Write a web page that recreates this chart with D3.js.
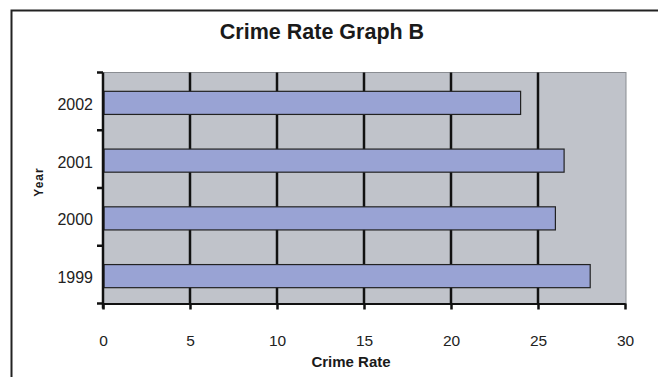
<!DOCTYPE html>
<html>
<head>
<meta charset="utf-8">
<script src="https://cdn.jsdelivr.net/npm/d3@7"></script>
<style>
  html, body { margin: 0; padding: 0; background: #fff; }
  svg { display: block; font-family: "Liberation Sans", Arial, sans-serif; }
</style>
</head>
<body>
<svg id="chart" width="658" height="377"></svg>
<script>
// Crime rate by year
const years = ["1999", "2000", "2001", "2002"];
const crimeRates = [28, 26, 26.5, 24];
const xTicks = [0, 5, 10, 15, 20, 25, 30];

const svg = d3.select("#chart");
const W = 658, H = 377;
const plot = { left: 103, right: 625, top: 72.5, bottom: 303.5 };

// Outer frame (only left and top edges fall inside the window)
svg.append("path")
  .attr("d", `M11.5,${H} L11.5,10.5 L${W},10.5`)
  .attr("fill", "none").attr("stroke", "#222").attr("stroke-width", 2);

// Title
svg.append("text")
  .attr("x", 322).attr("y", 38.5)
  .attr("text-anchor", "middle")
  .attr("font-size", 21.5).attr("font-weight", "bold").attr("fill", "#1a1a1a")
  .text("Crime Rate Graph B");

const x = d3.scaleLinear().domain([0, 30]).range([plot.left, plot.right]);
// Categories bottom-to-top: 1999 at the bottom
const y = d3.scaleBand().domain(years.slice().reverse())
  .range([plot.top, plot.bottom]).paddingInner(0).paddingOuter(0);
const barH = y.bandwidth() * 0.4;

// Plot background
svg.append("rect")
  .attr("x", plot.left).attr("y", plot.top)
  .attr("width", plot.right - plot.left + 1).attr("height", plot.bottom - plot.top)
  .attr("fill", "#c0c3ca").attr("stroke", "#8a8d92").attr("stroke-width", 1);

// Vertical gridlines
svg.append("g").selectAll("line")
  .data(xTicks.filter(d => d > 0 && d < 30))
  .join("line")
  .attr("x1", d => x(d)).attr("x2", d => x(d))
  .attr("y1", plot.top).attr("y2", plot.bottom)
  .attr("stroke", "#111").attr("stroke-width", 2.5);

// Bars
svg.append("g").selectAll("rect")
  .data(years.map((yr, i) => ({ yr, v: crimeRates[i] })))
  .join("rect")
  .attr("x", x(0) + 1)
  .attr("y", d => y(d.yr) + (y.bandwidth() - barH) / 2 + 1.5)
  .attr("width", d => x(d.v) - x(0) - 1)
  .attr("height", barH)
  .attr("fill", "#99a3d4").attr("stroke", "#222").attr("stroke-width", 1.2);

// X axis
const xAxis = svg.append("g")
  .attr("transform", `translate(0,${plot.bottom})`)
  .call(d3.axisBottom(x).tickValues(xTicks).tickSize(6).tickPadding(25).tickSizeOuter(0));
xAxis.select(".domain").attr("stroke", "#111").attr("stroke-width", 2);
xAxis.selectAll(".tick line").attr("stroke", "#111").attr("stroke-width", 2.5);
xAxis.selectAll(".tick text")
  .attr("font-size", 15.5).attr("fill", "#222")
  .attr("font-family", "Liberation Sans, Arial, sans-serif");

// Y axis: ticks at category boundaries, labels at band centres
const yAxisG = svg.append("g").attr("transform", `translate(${plot.left},0)`);
yAxisG.append("line")
  .attr("x1", 0).attr("x2", 0)
  .attr("y1", plot.top).attr("y2", plot.bottom + 5)
  .attr("stroke", "#111").attr("stroke-width", 2.5);
const boundaries = years.map(yr => y(yr)).concat([plot.bottom]);
yAxisG.selectAll("line.tick")
  .data(boundaries)
  .join("line").attr("class", "tick")
  .attr("x1", -6).attr("x2", 0)
  .attr("y1", d => d).attr("y2", d => d)
  .attr("stroke", "#111").attr("stroke-width", 2.5);
yAxisG.selectAll("text")
  .data(years)
  .join("text")
  .attr("x", -10)
  .attr("y", d => y(d) + y.bandwidth() / 2 + 3)
  .attr("dy", "0.35em")
  .attr("text-anchor", "end")
  .attr("font-size", 16).attr("fill", "#222")
  .text(d => d);

// Axis titles
svg.append("text")
  .attr("x", 351).attr("y", 367)
  .attr("text-anchor", "middle")
  .attr("font-size", 15).attr("font-weight", "bold").attr("fill", "#1a1a1a")
  .text("Crime Rate");
svg.append("text")
  .attr("transform", "translate(42.5,182) rotate(-90)")
  .attr("text-anchor", "middle")
  .attr("font-size", 12).attr("font-weight", "bold").attr("fill", "#1a1a1a")
  .attr("letter-spacing", 1)
  .text("Year");
</script>
</body>
</html>
